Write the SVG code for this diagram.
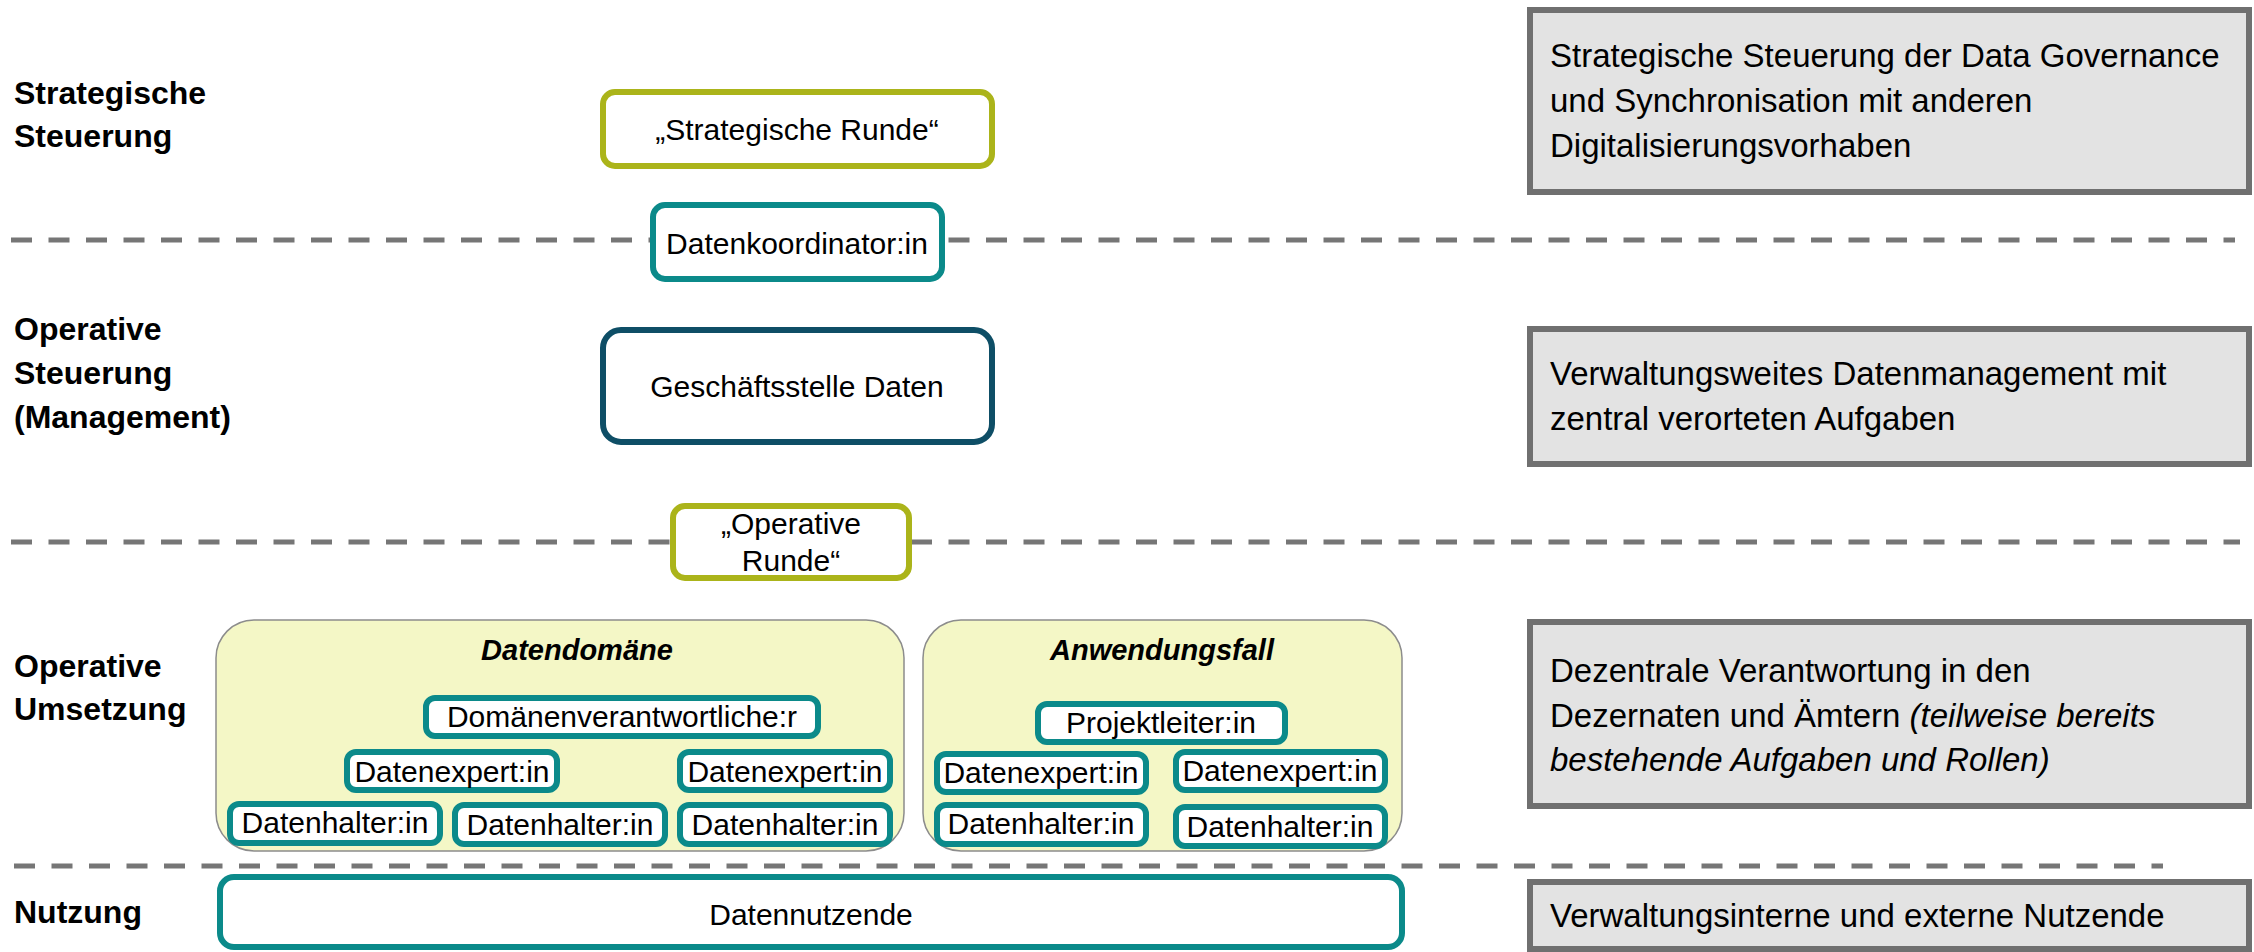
<svg xmlns="http://www.w3.org/2000/svg" width="2254" height="952" viewBox="0 0 2254 952">
<style>
  text { font-family: "Liberation Sans", Arial, sans-serif; fill: #000; }
  .lbl { font-size: 32px; font-weight: bold; }
  .nt { font-size: 30px; text-anchor: middle; }
  .rt { font-size: 33px; }
  .ttl { font-size: 29px; font-weight: bold; font-style: italic; text-anchor: middle; }
  .dash { stroke: #767676; stroke-width: 5; stroke-dasharray: 21 16.5; fill: none; }
  .olive { fill: #fff; stroke: #ABB41A; stroke-width: 6; }
  .teal { fill: #fff; stroke: #0B8A8A; stroke-width: 6; }
  .dark { fill: #fff; stroke: #0E4E66; stroke-width: 6; }
  .cont { fill: #F4F7C6; stroke: #8C8C8C; stroke-width: 1.5; }
  .gray { fill: #E3E3E3; stroke: #707070; stroke-width: 6; }
  .it { font-style: italic; }
</style>

<g id="layer-labels">
  <text class="lbl" x="14" y="104">Strategische</text>
  <text class="lbl" x="14" y="147">Steuerung</text>
  <text class="lbl" x="14" y="340">Operative</text>
  <text class="lbl" x="14" y="384">Steuerung</text>
  <text class="lbl" x="14" y="428">(Management)</text>
  <text class="lbl" x="14" y="677">Operative</text>
  <text class="lbl" x="14" y="720">Umsetzung</text>
  <text class="lbl" x="14" y="923">Nutzung</text>
</g>

<g id="connectors">
  <line class="dash" x1="11" y1="240" x2="2235" y2="240"/>
  <line class="dash" x1="11" y1="542" x2="2240" y2="542"/>
  <line class="dash" x1="14" y1="866" x2="2163" y2="866"/>
</g>

<g id="strategische-runde">
  <rect class="olive" x="603" y="92" width="389" height="74" rx="12"/>
  <text class="nt" x="797" y="140">„Strategische Runde“</text>
</g>

<g id="datenkoordinator">
  <rect class="teal" x="653" y="205" width="289" height="74" rx="12"/>
  <text class="nt" x="797" y="254">Datenkoordinator:in</text>
</g>

<g id="geschaeftsstelle">
  <rect class="dark" x="603" y="330" width="389" height="112" rx="18"/>
  <text class="nt" x="797" y="397">Geschäftsstelle Daten</text>
</g>

<g id="operative-runde">
  <rect class="olive" x="673" y="506" width="236" height="72" rx="12"/>
  <text class="nt" x="791" y="534">„Operative</text>
  <text class="nt" x="791" y="571">Runde“</text>
</g>

<g id="datendomaene">
  <rect class="cont" x="216" y="620" width="688" height="231" rx="38"/>
  <text class="ttl" x="577" y="660">Datendomäne</text>
</g>

<g id="domaenenverantwortliche">
  <rect class="teal" x="426" y="698" width="392" height="38" rx="9"/>
  <text class="nt" x="622" y="727">Domänenverantwortliche:r</text>
</g>
<g id="datenexpert-d1">
  <rect class="teal" x="347" y="752" width="210" height="38" rx="9"/>
  <text class="nt" x="452" y="782">Datenexpert:in</text>
</g>
<g id="datenexpert-d2">
  <rect class="teal" x="680" y="752" width="210" height="38" rx="9"/>
  <text class="nt" x="785" y="782">Datenexpert:in</text>
</g>
<g id="datenhalter-d1">
  <rect class="teal" x="230" y="804" width="210" height="39" rx="9"/>
  <text class="nt" x="335" y="833">Datenhalter:in</text>
</g>
<g id="datenhalter-d2">
  <rect class="teal" x="455" y="805" width="210" height="39" rx="9"/>
  <text class="nt" x="560" y="835">Datenhalter:in</text>
</g>
<g id="datenhalter-d3">
  <rect class="teal" x="680" y="805" width="210" height="39" rx="9"/>
  <text class="nt" x="785" y="835">Datenhalter:in</text>
</g>

<g id="anwendungsfall">
  <rect class="cont" x="923" y="620" width="479" height="231" rx="38"/>
  <text class="ttl" x="1162" y="660">Anwendungsfall</text>
</g>
<g id="projektleiter">
  <rect class="teal" x="1038" y="704" width="247" height="38" rx="9"/>
  <text class="nt" x="1161" y="733">Projektleiter:in</text>
</g>
<g id="datenexpert-a1">
  <rect class="teal" x="937" y="754" width="209" height="38" rx="9"/>
  <text class="nt" x="1041" y="783">Datenexpert:in</text>
</g>
<g id="datenexpert-a2">
  <rect class="teal" x="1176" y="752" width="209" height="38" rx="9"/>
  <text class="nt" x="1280" y="781">Datenexpert:in</text>
</g>
<g id="datenhalter-a1">
  <rect class="teal" x="937" y="805" width="209" height="39" rx="9"/>
  <text class="nt" x="1041" y="834">Datenhalter:in</text>
</g>
<g id="datenhalter-a2">
  <rect class="teal" x="1176" y="807" width="209" height="39" rx="9"/>
  <text class="nt" x="1280" y="837">Datenhalter:in</text>
</g>

<g id="datennutzende">
  <rect class="teal" x="220" y="877" width="1182" height="70" rx="14"/>
  <text class="nt" x="811" y="925">Datennutzende</text>
</g>

<g id="desc-strategisch">
  <rect class="gray" x="1530" y="10" width="719" height="182"/>
  <text class="rt" x="1550" y="67">Strategische Steuerung der Data Governance</text>
  <text class="rt" x="1550" y="112">und Synchronisation mit anderen</text>
  <text class="rt" x="1550" y="157">Digitalisierungsvorhaben</text>
</g>
<g id="desc-operativ-steuerung">
  <rect class="gray" x="1530" y="329" width="719" height="135"/>
  <text class="rt" x="1550" y="385">Verwaltungsweites Datenmanagement mit</text>
  <text class="rt" x="1550" y="430">zentral verorteten Aufgaben</text>
</g>
<g id="desc-operativ-umsetzung">
  <rect class="gray" x="1530" y="622" width="719" height="184"/>
  <text class="rt" x="1550" y="682">Dezentrale Verantwortung in den</text>
  <text class="rt" x="1550" y="727">Dezernaten und Ämtern <tspan class="it">(teilweise bereits</tspan></text>
  <text class="rt it" x="1550" y="771">bestehende Aufgaben und Rollen)</text>
</g>
<g id="desc-nutzung">
  <rect class="gray" x="1530" y="882" width="719" height="67"/>
  <text class="rt" x="1550" y="927">Verwaltungsinterne und externe Nutzende</text>
</g>
</svg>
